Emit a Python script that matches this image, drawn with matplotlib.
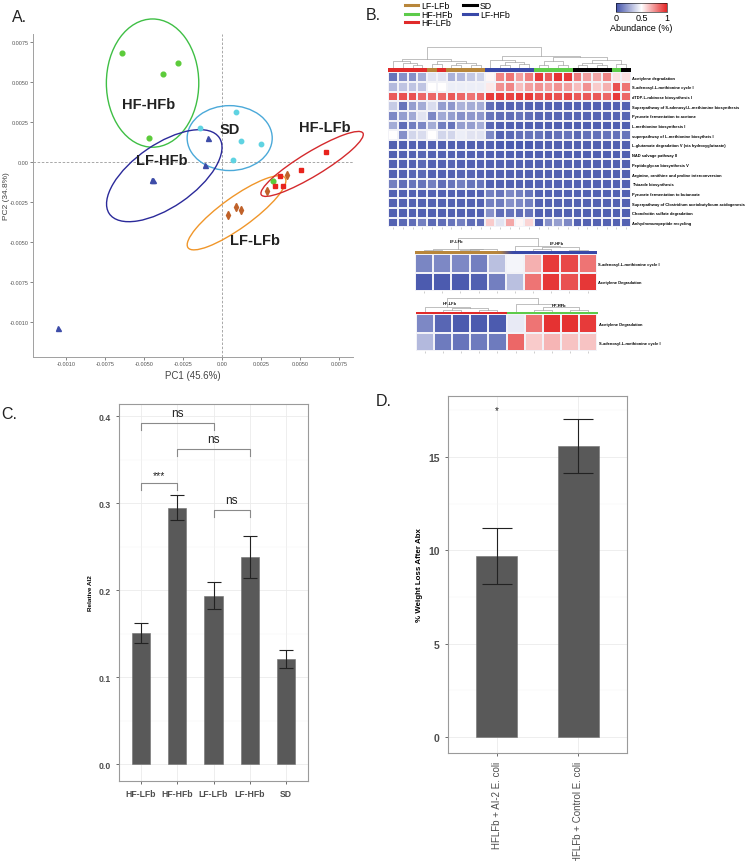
import numpy as np
import matplotlib
matplotlib.use('Agg')
from matplotlib import pyplot as plt
from matplotlib.patches import Ellipse
from matplotlib.lines import Line2D
from matplotlib.colors import LinearSegmentedColormap, to_rgb

W, H = 750, 862
plt.rcParams['font.family'] = ['Liberation Sans', 'DejaVu Sans']

# ---------------- data ----------------
# A. PCA scores per group
hfhfb_pc1 = [-0.0064, -0.0038, -0.0028, -0.0047, 0.0033]
hfhfb_pc2 = [0.0068, 0.0055, 0.0062, 0.0015, -0.0012]
sd_pc1 = [-0.0014, 0.0009, 0.0012, 0.0025, 0.0007]
sd_pc2 = [0.0021, 0.0031, 0.0013, 0.0011, 0.0001]
lfhfb_pc1 = [-0.0009, -0.0011, -0.0044, -0.0045, -0.0105]
lfhfb_pc2 = [0.0015, -0.0002, -0.0011, -0.0011, -0.0104]
hflfb_pc1 = [0.0067, 0.0051, 0.0037, 0.0034, 0.0039]
hflfb_pc2 = [0.0006, -0.0005, -0.0009, -0.0015, -0.0015]
lflfb_pc1 = [0.0004, 0.0009, 0.0012, 0.0029, 0.0042]
lflfb_pc2 = [-0.0033, -0.0028, -0.0030, -0.0018, -0.0008]

# ellipses: centre x, centre y, width, height, angle
ell_hfhfb = (-0.00444, 0.00493, 0.00592, 0.00802, 0)
ell_sd = (0.0005, 0.00149, 0.00545, 0.00406, 0)
ell_lfhfb = (-0.00369, -0.00086, 0.0085, 0.00395, 33.8)
ell_lflfb = (0.00094, -0.00318, 0.0076, 0.00195, 35)
ell_hflfb = (0.00578, -0.000125, 0.00757, 0.0015, 30.6)

pc_ticks = [-0.01, -0.0075, -0.005, -0.0025, 0, 0.0025, 0.005, 0.0075]
pc_ticklabels = ['-0.0010', '-0.0075', '-0.0050', '-0.0025', '0.00', '0.0025', '0.0050', '0.0075']

# B. pathway heatmap
pathways = ['Acetylene degradation', 'S-adenosyl-L-methionine cycle I', 'dTDP-L-rabinose biosynthesis I',
            'Superpathway of S-adenosyl-L-methionine biosynthesis', 'Pyruvate fermentation to acetone',
            'L-methionine biosynthesis I', 'superpathway of L-methionine biosytheis I',
            'L-glutamate degradation V (via hydroxyglutarate)', 'NAD salvage pathway II',
            'Peptidoglycan biosynthesis V', 'Arginine, ornithine and proline interconversion',
            'Thiazole biosynthesis', 'Pyruvate fermentation to butanoate',
            'Superpathway of Clostridium acetobutylicum acidogenesis', 'Chondroitin sulfate degradation',
            'Anhydromuropeptide recycling']
sample_groups = (['HF-LFb'] * 4 + ['LF-LFb'] + ['HF-LFb'] + ['LF-LFb'] * 4 + ['LF-HFb'] * 5
                 + ['HF-HFb'] * 4 + ['SD'] * 4 + ['HF-HFb'] + ['SD'])
abundance = [
    [0.10, 0.18, 0.18, 0.26, 0.42, 0.42, 0.28, 0.30, 0.34, 0.37, 0.52, 0.78, 0.82, 0.72, 0.80, 0.95, 0.88, 0.97, 0.96, 0.80, 0.72, 0.70, 0.78, 0.57, 0.57],
    [0.30, 0.33, 0.33, 0.33, 0.50, 0.50, 0.45, 0.45, 0.45, 0.45, 0.55, 0.75, 0.78, 0.65, 0.72, 0.75, 0.72, 0.75, 0.72, 0.65, 0.75, 0.62, 0.68, 0.90, 0.82],
    [0.88, 0.90, 0.90, 0.85, 0.85, 0.85, 0.88, 0.85, 0.82, 0.85, 0.95, 0.95, 0.93, 0.95, 0.95, 0.90, 0.92, 0.90, 0.92, 0.88, 0.88, 0.88, 0.85, 0.95, 0.85],
    [0.35, 0.10, 0.22, 0.26, 0.40, 0.22, 0.20, 0.28, 0.26, 0.26, 0.08, 0.05, 0.05, 0.06, 0.05, 0.05, 0.05, 0.05, 0.05, 0.05, 0.05, 0.05, 0.05, 0.05, 0.05],
    [0.16, 0.22, 0.25, 0.42, 0.16, 0.25, 0.22, 0.18, 0.20, 0.20, 0.10, 0.08, 0.08, 0.10, 0.08, 0.06, 0.06, 0.06, 0.06, 0.06, 0.06, 0.06, 0.06, 0.06, 0.06],
    [0.26, 0.08, 0.13, 0.16, 0.26, 0.13, 0.10, 0.22, 0.22, 0.26, 0.06, 0.04, 0.04, 0.04, 0.04, 0.04, 0.04, 0.04, 0.04, 0.04, 0.04, 0.04, 0.04, 0.04, 0.04],
    [0.50, 0.18, 0.38, 0.40, 0.50, 0.38, 0.38, 0.45, 0.42, 0.42, 0.16, 0.05, 0.07, 0.09, 0.10, 0.10, 0.07, 0.09, 0.10, 0.07, 0.09, 0.09, 0.10, 0.09, 0.10],
    [0.04, 0.04, 0.05, 0.04, 0.05, 0.04, 0.04, 0.05, 0.04, 0.04, 0.04, 0.03, 0.03, 0.03, 0.03, 0.04, 0.04, 0.04, 0.04, 0.04, 0.04, 0.04, 0.04, 0.04, 0.04],
    [0.04, 0.05, 0.05, 0.06, 0.05, 0.05, 0.05, 0.05, 0.05, 0.05, 0.04, 0.04, 0.04, 0.04, 0.04, 0.04, 0.04, 0.04, 0.04, 0.04, 0.04, 0.04, 0.04, 0.04, 0.04],
    [0.05, 0.05, 0.05, 0.07, 0.05, 0.05, 0.06, 0.05, 0.05, 0.05, 0.04, 0.04, 0.04, 0.04, 0.04, 0.04, 0.04, 0.04, 0.04, 0.04, 0.04, 0.04, 0.04, 0.04, 0.04],
    [0.05, 0.05, 0.06, 0.07, 0.05, 0.05, 0.05, 0.06, 0.06, 0.05, 0.04, 0.04, 0.04, 0.04, 0.04, 0.04, 0.04, 0.04, 0.04, 0.04, 0.04, 0.04, 0.04, 0.04, 0.04],
    [0.13, 0.08, 0.10, 0.10, 0.13, 0.08, 0.10, 0.13, 0.10, 0.10, 0.04, 0.04, 0.04, 0.04, 0.04, 0.05, 0.05, 0.05, 0.05, 0.05, 0.05, 0.05, 0.05, 0.05, 0.05],
    [0.05, 0.05, 0.05, 0.05, 0.05, 0.05, 0.05, 0.05, 0.05, 0.05, 0.13, 0.10, 0.16, 0.13, 0.10, 0.05, 0.05, 0.05, 0.05, 0.05, 0.05, 0.05, 0.05, 0.05, 0.05],
    [0.05, 0.05, 0.05, 0.05, 0.05, 0.05, 0.05, 0.05, 0.05, 0.05, 0.13, 0.12, 0.18, 0.16, 0.13, 0.05, 0.05, 0.05, 0.05, 0.05, 0.05, 0.05, 0.05, 0.05, 0.05],
    [0.04, 0.04, 0.04, 0.04, 0.04, 0.04, 0.04, 0.04, 0.04, 0.04, 0.18, 0.08, 0.10, 0.08, 0.10, 0.04, 0.04, 0.04, 0.04, 0.04, 0.04, 0.04, 0.04, 0.04, 0.04],
    [0.05, 0.07, 0.08, 0.13, 0.07, 0.08, 0.10, 0.13, 0.08, 0.08, 0.62, 0.42, 0.70, 0.52, 0.60, 0.04, 0.18, 0.22, 0.16, 0.05, 0.05, 0.05, 0.05, 0.05, 0.05],
]
# dendrogram merges as (height, left, right), leaves are column indices
main_tree = (1.0,
             (0.42, (0.30, 0, (0.22, 1, (0.12, 2, 3))),
                    (0.30, (0.15, 4, 5), (0.22, (0.10, 6, 7), (0.12, 8, 9)))),
             (0.59, (0.35, 10, (0.25, (0.10, 11, 12), (0.15, 13, 14))),
                    (0.50, (0.30, (0.12, 15, 16), (0.10, 17, 18)),
                           (0.35, (0.20, (0.10, 19, 20), (0.12, 21, 22)), (0.15, 23, 24)))))

lf_pathways = ['S-adenosyl-L-methionine cycle I', 'Acetylene Degradation']
lf_groups = ['LF-LFb'] * 5 + ['LF-HFb'] * 5
lf_abundance = [
    [0.15, 0.16, 0.16, 0.13, 0.32, 0.47, 0.68, 0.95, 0.92, 0.82],
    [0.03, 0.03, 0.03, 0.04, 0.13, 0.32, 0.82, 0.96, 0.90, 0.96],
]
lf_tree = (1.0, (0.15, (0.08, 0, 1), (0.12, (0.05, 2, 3), 4)),
           (0.40, 5, (0.28, (0.14, 6, 7), (0.10, 8, 9))))

hf_pathways = ['Acetylene Degradation', 'S-adenosyl-L-methionine cycle I']
hf_groups = ['HF-LFb'] * 5 + ['HF-HFb'] * 5
hf_abundance = [
    [0.16, 0.06, 0.03, 0.03, 0.03, 0.44, 0.82, 0.97, 0.97, 0.95],
    [0.30, 0.12, 0.10, 0.12, 0.12, 0.85, 0.62, 0.67, 0.64, 0.64],
]
hf_tree = (1.0, (0.30, 0, (0.22, (0.12, 1, 2), (0.08, 3, 4))),
           (0.55, 5, (0.30, (0.12, 6, 7), (0.10, 8, 9))))

# C. AI-2 levels
ai2_groups = ['HF-LFb', 'HF-HFb', 'LF-LFb', 'LF-HFb', 'SD']
ai2_mean = [0.151, 0.295, 0.194, 0.238, 0.121]
ai2_err = [0.011, 0.014, 0.016, 0.024, 0.010]

# D. weight loss
wl_groups = ['HFLFb + AI-2 E. coli', 'HFLFb + Control E. coli']
wl_mean = [9.7, 15.6]
wl_err = [1.5, 1.45]

# ---------------- style ----------------
group_colors = {'LF-LFb': '#B8863B', 'HF-HFb': '#5DCB4A', 'HF-LFb': '#E02A2A',
                'SD': '#000000', 'LF-HFb': '#3848A8'}
abund_cmap = LinearSegmentedColormap.from_list('abund', ['#4252AA', '#FFFFFF', '#E42626'])


def box(x0, y0, x1, y1):
    return [x0 / W, 1 - y1 / H, (x1 - x0) / W, (y1 - y0) / H]


def draw_tree(ax, node):
    if isinstance(node, int):
        return node + 0.5, 0.0
    h, left, right = node
    xl, hl = draw_tree(ax, left)
    xr, hr = draw_tree(ax, right)
    ax.plot([xl, xl, xr, xr], [hl, h, h, hr], color='#a5a5a5', lw=0.5)
    return (xl + xr) / 2, h


def heat_block(tree, groups, values, rows, dendro_px, bar_px, heat_px, label_size):
    n = len(groups)
    axd = fig.add_axes(box(*dendro_px))
    draw_tree(axd, tree)
    axd.set_xlim(0, n)
    axd.set_ylim(0, 1.02)
    axd.axis('off')

    axb = fig.add_axes(box(*bar_px))
    axb.imshow([[to_rgb(group_colors[g]) for g in groups]], aspect='auto',
               extent=(0, n, 0, 1))
    axb.set_xlim(0, n)
    axb.axis('off')

    axh = fig.add_axes(box(*heat_px))
    axh.pcolormesh(np.array(values), cmap=abund_cmap, vmin=0, vmax=1,
                   edgecolors='#f2f2f7', linewidth=0.35)
    axh.set_xlim(0, n)
    axh.set_ylim(len(rows), 0)
    axh.set_yticks(np.arange(len(rows)) + 0.5)
    axh.set_yticklabels(rows, fontsize=label_size, fontweight='bold')
    axh.yaxis.tick_right()
    axh.set_xticks(np.arange(n) + 0.5)
    axh.set_xticklabels([])
    axh.tick_params(axis='y', length=0, pad=1)
    axh.tick_params(axis='x', length=1.5, width=0.4, color='#aaaaaa')
    for s in axh.spines.values():
        s.set_visible(False)
    return axd


def bw_axes(ax):
    for s in ax.spines.values():
        s.set_color('#9a9a9a')
        s.set_linewidth(0.8)
    ax.set_facecolor('white')
    ax.grid(which='major', color='#ebebeb', lw=0.6)
    ax.grid(which='minor', color='#f4f4f4', lw=0.35)
    ax.set_axisbelow(True)
    ax.tick_params(which='major', length=2.5, width=0.6, color='#555555', colors='#4d4d4d')
    ax.tick_params(which='minor', length=0)


fig = plt.figure(figsize=(W / 100, H / 100), dpi=100)

# ---------------- A. PCA ----------------
axA = fig.add_axes(box(33, 35, 353, 358))
pca_sets = [
    (hfhfb_pc1, hfhfb_pc2, 'o', '#5CCB3A', 3.4),
    (sd_pc1, sd_pc2, 'o', '#5FD3E2', 3.2),
    (lfhfb_pc1, lfhfb_pc2, '^', '#3D4CA8', 3.6),
    (hflfb_pc1, hflfb_pc2, 's', '#E8231D', 3.3),
    (lflfb_pc1, lflfb_pc2, 'd', '#C0622A', 3.6),
]
for xs, ys, mk, col, ms in pca_sets:
    axA.plot(xs, ys, mk, color=col, ms=ms, mec=col, ls='none', zorder=3)
axA.plot(lflfb_pc1, lflfb_pc2, '|', color='#C0622A', ms=6, mew=0.8, ls='none', zorder=3)

ell_styles = [(ell_hfhfb, '#3FBF45'), (ell_sd, '#4BA9D9'), (ell_lfhfb, '#2B2A9A'),
              (ell_lflfb, '#F0962A'), (ell_hflfb, '#D42A2D')]
for (cx, cy, w, h, ang), col in ell_styles:
    axA.add_patch(Ellipse((cx, cy), w, h, angle=ang, fill=False, ec=col, lw=1.0,
                          zorder=2, clip_on=False))

axA.axvline(0, color='#9a9a9a', lw=0.6, ls=(0, (3, 2)), zorder=1)
axA.axhline(0, color='#9a9a9a', lw=0.6, ls=(0, (3, 2)), zorder=1)

pca_labels = [('HF-HFb', -0.00472, 0.00363), ('SD', 0.00051, 0.00206), ('HF-LFb', 0.0066, 0.00217),
              ('LF-HFb', -0.00383, 0.00015), ('LF-LFb', 0.00212, -0.00486)]
for txt, tx, ty in pca_labels:
    axA.text(tx, ty, txt, fontsize=10.5, fontweight='bold', color='#222222',
             ha='center', va='center', zorder=4)

axA.set_xlim(-0.0121, 0.0084)
axA.set_ylim(-0.0122, 0.0080)
axA.set_xticks(pc_ticks)
axA.set_xticklabels(pc_ticklabels)
axA.set_yticks(pc_ticks)
axA.set_yticklabels(pc_ticklabels)
axA.tick_params(labelsize=4.0, colors='#555555', length=2, width=0.5, pad=1)
for side in ['top', 'right']:
    axA.spines[side].set_visible(False)
for side in ['left', 'bottom']:
    axA.spines[side].set_color('#a0a0a0')
    axA.spines[side].set_linewidth(0.7)
axA.set_xlabel('PC1 (45.6%)', fontsize=7, color='#444444', labelpad=3)
axA.set_ylabel('PC2 (34.8%)', fontsize=6.0, color='#444444')
axA.yaxis.set_label_coords(-0.0715, 0.5)

# ---------------- B. heatmaps ----------------
heat_block(main_tree, sample_groups, abundance, pathways,
           (388.3, 48, 631, 68.5), (388.3, 69.3, 631, 72.5), (388.3, 73.3, 631, 228.3), 2.9)

axd1 = heat_block(lf_tree, lf_groups, lf_abundance, lf_pathways,
                  (415, 238.5, 596.7, 252), (415, 252.4, 596.7, 254.6), (415, 255, 596.7, 292.3), 2.9)
axd1.text(2.3, 0.72, 'LF-LFb', fontsize=2.9, fontweight='bold', ha='center', va='center')
axd1.text(7.8, 0.6, 'LF-HFb', fontsize=2.9, fontweight='bold', ha='center', va='center')

axd2 = heat_block(hf_tree, hf_groups, hf_abundance, hf_pathways,
                  (415.7, 298.5, 597.3, 312.5), (415.7, 313.1, 597.3, 315.1), (415.7, 315.3, 597.3, 352.3), 2.9)
axd2.text(1.9, 0.6, 'HF-LFb', fontsize=2.9, fontweight='bold', ha='center', va='center')
axd2.text(7.9, 0.48, 'HF-HFb', fontsize=2.9, fontweight='bold', ha='center', va='center')

# legend for sample groups
legend_order = ['LF-LFb', 'HF-HFb', 'HF-LFb', 'SD', 'LF-HFb']
handles = [Line2D([0], [0], color=group_colors[g], lw=2.2) for g in legend_order]
fig.legend(handles, legend_order, ncol=2, loc='upper left', bbox_to_anchor=(405 / W, 1 - 2 / H),
           frameon=False, fontsize=6.3, handlelength=1.5, handletextpad=0.4,
           labelspacing=-0.05, columnspacing=1.2, borderaxespad=0, borderpad=0)

# colour bar
cax = fig.add_axes(box(616, 4, 667, 13))
sm = plt.cm.ScalarMappable(cmap=abund_cmap, norm=plt.Normalize(0, 1))
cb = fig.colorbar(sm, cax=cax, orientation='horizontal')
cb.set_ticks([0, 0.5, 1])
cb.set_ticklabels(['0', '0.5', '1'])
cb.outline.set_linewidth(0.4)
cax.tick_params(labelsize=6.5, length=0, pad=1)
cax.set_xlabel('Abundance (%)', fontsize=6.5, labelpad=0.5)

# ---------------- C. AI-2 ----------------
axC = fig.add_axes(box(119, 405, 308, 782))
xc = np.arange(1, len(ai2_groups) + 1)
axC.bar(xc, ai2_mean, width=0.5, color='#595959', edgecolor='#707070', lw=0.4, zorder=2)
axC.errorbar(xc, ai2_mean, yerr=ai2_err, fmt='none', ecolor='#222222', elinewidth=0.8,
             capsize=4.8, capthick=0.8, zorder=3)
axC.set_xlim(0.4, 5.6)
axC.set_ylim(-0.019, 0.414)
axC.set_xticks(xc)
axC.set_xticklabels(ai2_groups)
axC.set_yticks([0, 0.1, 0.2, 0.3, 0.4])
axC.set_yticklabels(['0.0', '0.1', '0.2', '0.3', '0.4'])
axC.set_yticks([0.05, 0.15, 0.25, 0.35], minor=True)
bw_axes(axC)
for lbl in axC.get_xticklabels() + axC.get_yticklabels():
    lbl.set_fontsize(6.2)
    lbl.set_fontweight('bold')
axC.set_ylabel('Relative AI2', fontsize=4.6, fontweight='bold', labelpad=4)

brackets = [(1, 3, 'ns', 0.3927, 8.6), (2, 4, 'ns', 0.3626, 8.6), (1, 2, '***', 0.3229, 7.5),
            (3, 4, 'ns', 0.2927, 8.6)]
for a, b, txt, yb, fs in brackets:
    axC.plot([a, a, b, b], [yb - 0.008, yb, yb, yb - 0.008], color='#8a8a8a', lw=0.8, zorder=4)
    axC.text((a + b) / 2, yb + 0.004, txt, ha='center', va='bottom', fontsize=fs, color='#222222')

# ---------------- D. weight loss ----------------
axD = fig.add_axes(box(448, 397, 627, 754))
xd = np.arange(1, len(wl_groups) + 1)
axD.bar(xd, wl_mean, width=0.5, color='#595959', edgecolor='#707070', lw=0.4, zorder=2)
axD.errorbar(xd, wl_mean, yerr=wl_err, fmt='none', ecolor='#222222', elinewidth=0.8,
             capsize=10.5, capthick=0.8, zorder=3)
axD.set_xlim(0.4, 2.6)
axD.set_ylim(-0.855, 18.26)
axD.set_xticks(xd)
axD.set_xticklabels(wl_groups, rotation=90, fontsize=7, color='#333333')
axD.set_yticks([0, 5, 10, 15])
axD.set_yticks([2.5, 7.5, 12.5, 17.5], minor=True)
bw_axes(axD)
for lbl in axD.get_yticklabels():
    lbl.set_fontsize(7.5)
    lbl.set_fontweight('bold')
axD.set_ylabel('% Weight Loss After Abx', fontsize=5.7, fontweight='bold', labelpad=4)
axD.text(1, 17.5, '*', ha='center', va='center', fontsize=7, color='#222222')

# ---------------- panel letters ----------------
for letter, px, py in [('A.', 12, 18), ('B.', 366, 15), ('C.', 1, 415), ('D.', 376, 402)]:
    fig.text(px / W, 1 - py / H, letter, fontsize=11.5, ha='left', va='center', color='#222222')

fig.savefig('out.png', dpi=100)
